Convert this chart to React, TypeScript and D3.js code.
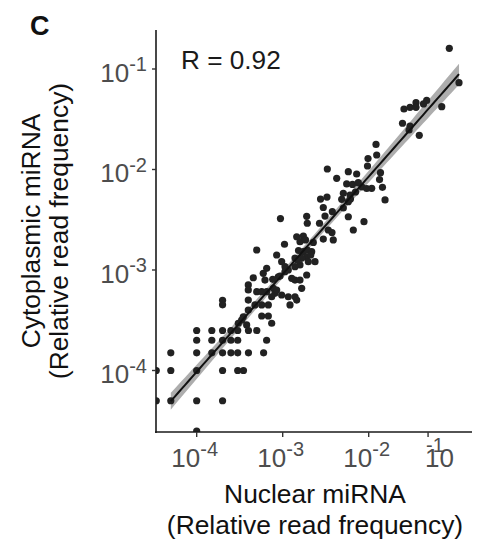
import React, { useRef, useEffect } from 'react';
import * as d3 from 'd3';

// log10 of the relative read frequency
const nuclearLog10 = [
    -1.063, -0.95, -1.151, -1.59, -1.52, -1.45, -1.45, -1.363, -1.326, -1.607, -1.52, -1.531, -1.412,
    -1.915, -1.907, -2.008, -2.014, -1.863, -1.874, -1.84, -1.81, -2.481, -2.372, -2.237, -2.14,
    -2.256, -2.188, -2.121, -2.078, -2.023, -1.965, -2.295, -2.217, -2.153, -2.212, -2.314, -2.56,
    -2.485, -2.528, -2.295, -2.237, -2.423, -2.508, -2.721, -2.237, -2.055, -2.179,
    -2.572, -2.714, -3.026, -2.837, -2.76, -2.799, -2.735, -2.644, -2.47, -2.427, -2.528, -2.412,
    -2.979, -3.302, -3.07, -2.816, -2.76, -2.663, -2.721, -2.857, -3.012, -2.973, -2.779, -2.624,
    -2.799, -2.702, -2.935, -3.186, -3.226, -3.342, -3.206, -3.051, -2.857, -2.799, -2.721,
    -3.4, -3.4, -3.302, -3.244, -3.186, -3.109, -3.09, -3.012, -2.935, -2.857, -2.837, -2.779,
    -3.4, -3.128, -3.322, -3.244, -3.167, -2.915, -3.4, -3.458, -3.477, -3.516, -3.244, -3.167,
    -3.128, -3.419, -2.857, -2.973, -3.031, -2.895, -3.116, -3.07, -2.714, -2.674, -2.83,
    -3.699, -3.699,
    -4, -3.824, -3.699, -3.602, -3.523, -3.398, -3.301,
    -4, -3.824, -3.699, -3.602, -3.523, -3.187,
    -4.301, -4, -3.824, -3.699, -3.602, -3.523, -3.398, -3.222,
    -4.47, -4.301, -4, -3.699, -3.523, -3.456,
    -4.47, -4.301, -4, -3.699,
    -4,
];

const cytoplasmicLog10 = [
    -0.794, -1.136, -1.375, -1.398, -1.381, -1.335, -1.381, -1.348, -1.313, -1.54, -1.567, -1.607, -1.66,
    -1.751, -1.856, -1.891, -1.965, -2.032, -2.1, -2.177, -2.303, -1.995, -2.088, -2.022, -2.045,
    -2.144, -2.149, -2.131, -2.174, -2.189, -2.187, -2.237, -2.254, -2.224, -2.294, -2.297, -2.294,
    -2.274, -2.378, -2.383, -2.32, -2.42, -2.463, -2.466, -2.47, -2.519, -2.602,
    -2.535, -2.535, -2.488, -2.669, -2.662, -2.718, -2.701, -2.726, -2.602, -2.627, -2.692, -2.701,
    -2.744, -2.801, -2.851, -2.806, -2.818, -2.818, -2.868, -2.881, -2.917, -2.967, -2.884, -2.917,
    -2.95, -2.917, -3, -2.983, -3.033, -3.077, -3.1, -3.067, -3.1, -3.1, -3.05,
    -3.149, -3.199, -3.216, -3.216, -3.216, -3.182, -3.232, -3.249, -3.266, -3.266, -3.299, -3.182,
    -3.299, -3.266, -3.348, -3.348, -3.348, -3.348, -3.398, -3.465, -3.498, -3.53, -3.458, -3.458,
    -3.53, -3.547, -2.967, -3.017, -3.06, -3.083, -3.093, -3.199, -2.801, -2.851, -2.9,
    -3.301, -3.347,
    -3.602, -3.602, -3.602, -3.602, -3.602, -3.602, -3.602,
    -3.699, -3.699, -3.699, -3.699, -3.699, -3.699,
    -3.824, -3.824, -3.824, -3.824, -3.824, -3.824, -3.824, -3.824,
    -4, -4, -4, -4, -4, -4,
    -4.301, -4.301, -4.301, -4.301,
    -4.602,
];

// the right-most x tick sits short of 10^-1 in the original figure
const xTickValues = [1e-4, 1e-3, 1e-2, 0.049];
const xTickExponents = ['-4', '-3', '-2', '-1'];
const yTickValues = [1e-4, 1e-3, 1e-2, 1e-1];
const yTickExponents = ['-4', '-3', '-2', '-1'];

const correlationLabel = 'R = 0.92';
const panelLabel = 'C';
const xTitle = ['Nuclear miRNA', '(Relative read frequency)'];
const yTitle = ['Cytoplasmic miRNA', '(Relative read frequency)'];

const width = 479;
const height = 550;
const plot = { left: 156, right: 472, top: 30, bottom: 432 };
const font = '"Liberation Sans", Arial, Helvetica, sans-serif';

const App = () => {
    const svgRef = useRef<SVGSVGElement>(null);

    useEffect(() => {
        const svg = d3.select(svgRef.current);
        svg.selectAll('*').remove();

        const x = d3.scaleLog().domain([10 ** -4.473, 10 ** -0.799]).range([plot.left, plot.right]);
        const y = d3.scaleLog().domain([10 ** -4.612, 10 ** -0.612]).range([plot.bottom, plot.top]);

        const points = nuclearLog10.map((v, i) => ({ nuc: 10 ** v, cyto: 10 ** cytoplasmicLog10[i] }));

        // straight line fit on the log values with a 95% band (what geom_smooth(method = "lm") draws)
        const n = nuclearLog10.length;
        const mx = d3.mean(nuclearLog10) as number;
        const my = d3.mean(cytoplasmicLog10) as number;
        let sxx = 0;
        let sxy = 0;
        nuclearLog10.forEach((v, i) => {
            sxx += (v - mx) ** 2;
            sxy += (v - mx) * (cytoplasmicLog10[i] - my);
        });
        const slope = sxy / sxx;
        const intercept = my - slope * mx;
        let sse = 0;
        nuclearLog10.forEach((v, i) => {
            sse += (cytoplasmicLog10[i] - (intercept + slope * v)) ** 2;
        });
        const s = Math.sqrt(sse / (n - 2));
        const tCrit = 1.976;

        // points on the panel edge are not part of the drawn fit range
        const lo = d3.min(nuclearLog10.filter(v => v > -4.4)) as number;
        const hi = d3.max(nuclearLog10) as number;
        const fit = d3.range(0, 81).map(i => {
            const g = lo + (hi - lo) * i / 80;
            const yhat = intercept + slope * g;
            const se = s * Math.sqrt(1 / n + (g - mx) ** 2 / sxx);
            return { g, yhat, low: yhat - tCrit * se, high: yhat + tCrit * se };
        });

        svg.append('defs').append('clipPath')
            .attr('id', 'panel')
            .append('rect')
            .attr('x', plot.left)
            .attr('y', plot.top)
            .attr('width', plot.right - plot.left)
            .attr('height', plot.bottom - plot.top);

        const panel = svg.append('g').attr('clip-path', 'url(#panel)');

        panel.append('path')
            .datum(fit)
            .attr('d', d3.area<any>()
                .x(d => x(10 ** d.g))
                .y0(d => y(10 ** d.low))
                .y1(d => y(10 ** d.high)))
            .attr('fill', '#999999')
            .attr('opacity', 0.8);

        panel.selectAll('.dot')
            .data(points)
            .enter().append('circle')
            .attr('class', 'dot')
            .attr('cx', d => x(d.nuc))
            .attr('cy', d => y(d.cyto))
            .attr('r', 3.6)
            .attr('fill', '#222222');

        panel.append('path')
            .datum(fit)
            .attr('d', d3.line<any>()
                .x(d => x(10 ** d.g))
                .y(d => y(10 ** d.yhat)))
            .attr('fill', 'none')
            .attr('stroke', '#111111')
            .attr('stroke-width', 2);

        // axes
        svg.append('line')
            .attr('x1', plot.left).attr('x2', plot.left)
            .attr('y1', plot.top).attr('y2', plot.bottom + 1)
            .attr('stroke', '#1a1a1a').attr('stroke-width', 1.6);
        svg.append('line')
            .attr('x1', plot.left - 1).attr('x2', plot.right)
            .attr('y1', plot.bottom).attr('y2', plot.bottom)
            .attr('stroke', '#1a1a1a').attr('stroke-width', 1.6);

        yTickValues.forEach((v, i) => {
            const ty = y(v);
            svg.append('line')
                .attr('x1', plot.left - 4).attr('x2', plot.left)
                .attr('y1', ty).attr('y2', ty)
                .attr('stroke', '#333333').attr('stroke-width', 1.4);
            const label = svg.append('text')
                .attr('x', plot.left - 9)
                .attr('y', ty + 13)
                .attr('text-anchor', 'end')
                .attr('font-family', font)
                .attr('font-size', 26)
                .attr('fill', '#4d4d4d');
            label.append('tspan').text('10');
            label.append('tspan').attr('dy', -10.5).attr('font-size', 20).text(yTickExponents[i]);
        });

        xTickValues.forEach((v, i) => {
            const tx = x(v);
            svg.append('line')
                .attr('x1', tx).attr('x2', tx)
                .attr('y1', plot.bottom).attr('y2', plot.bottom + 5)
                .attr('stroke', '#333333').attr('stroke-width', 1.4);
            const last = i === xTickValues.length - 1;
            if (last) {
                // base and exponent overprint each other here, as in the original
                svg.append('text')
                    .attr('x', tx - 3).attr('y', 467)
                    .attr('font-family', font).attr('font-size', 26).attr('fill', '#4d4d4d')
                    .text('10');
                svg.append('text')
                    .attr('x', tx - 2).attr('y', 452)
                    .attr('font-family', font).attr('font-size', 20).attr('fill', '#4d4d4d')
                    .text(xTickExponents[i]);
            } else {
                const label = svg.append('text')
                    .attr('x', tx - 2)
                    .attr('y', 467)
                    .attr('text-anchor', 'middle')
                    .attr('font-family', font)
                    .attr('font-size', 26)
                    .attr('fill', '#4d4d4d');
                label.append('tspan').text('10');
                label.append('tspan').attr('dy', -11.5).attr('font-size', 20).text(xTickExponents[i]);
            }
        });

        // titles
        xTitle.forEach((t, i) => {
            svg.append('text')
                .attr('x', 315)
                .attr('y', 503 + i * 31)
                .attr('text-anchor', 'middle')
                .attr('font-family', font)
                .attr('font-size', 26.4)
                .attr('fill', '#111111')
                .text(t);
        });

        yTitle.forEach((t, i) => {
            svg.append('text')
                .attr('transform', `translate(${40 + i * 28},231) rotate(-90)`)
                .attr('text-anchor', 'middle')
                .attr('font-family', font)
                .attr('font-size', 26.4)
                .attr('fill', '#111111')
                .text(t);
        });

        svg.append('text')
            .attr('x', 181)
            .attr('y', 69)
            .attr('font-family', font)
            .attr('font-size', 26.2)
            .attr('fill', '#1a1a1a')
            .text(correlationLabel);

        svg.append('text')
            .attr('x', 30)
            .attr('y', 35)
            .attr('font-family', font)
            .attr('font-size', 27)
            .attr('font-weight', 'bold')
            .attr('fill', '#111111')
            .text(panelLabel);
    }, []);

    return (
        <svg
            ref={svgRef}
            width={width}
            height={height}
            style={{ position: 'absolute', left: 0, top: 0, background: '#fff' }}
        />
    );
};

export default App;
